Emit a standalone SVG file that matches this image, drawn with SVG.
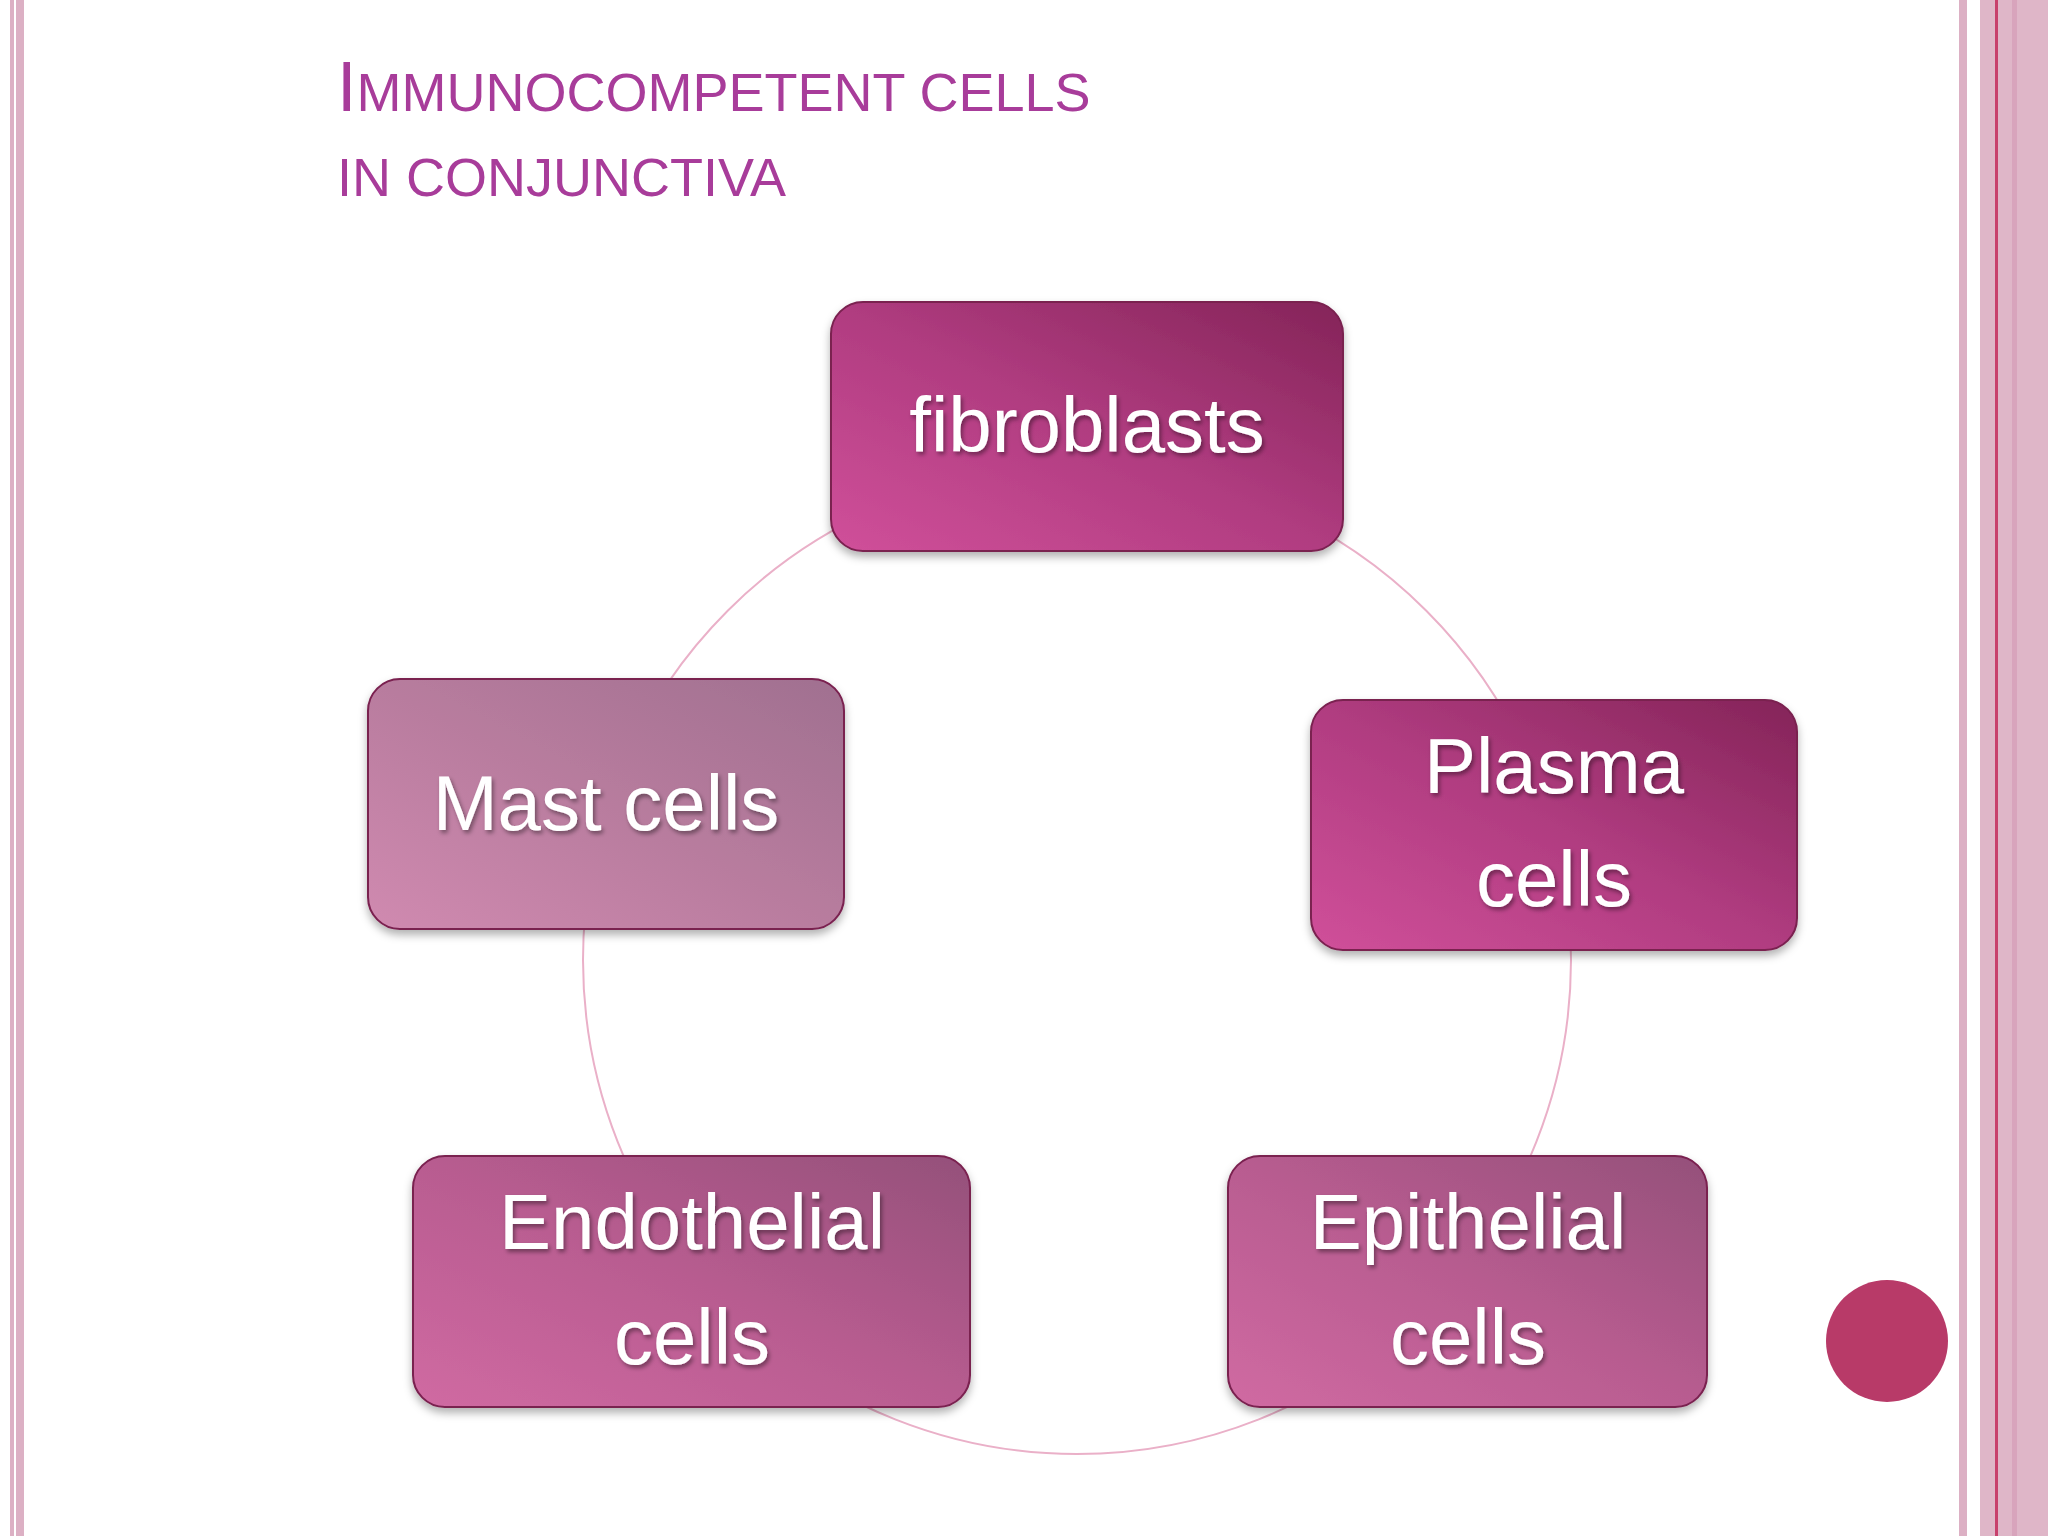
<svg xmlns="http://www.w3.org/2000/svg" width="2048" height="1536" viewBox="0 0 2048 1536">
<defs>
<linearGradient id="gA" x1="0" y1="1" x2="1" y2="0"><stop offset="0" stop-color="#d0509a"/><stop offset="0.5" stop-color="#b03c80"/><stop offset="1" stop-color="#842458"/></linearGradient>
<linearGradient id="gB" x1="0" y1="1" x2="1" y2="0"><stop offset="0" stop-color="#d08ab0"/><stop offset="0.5" stop-color="#b87c9e"/><stop offset="1" stop-color="#a07090"/></linearGradient>
<linearGradient id="gC" x1="0" y1="1" x2="1" y2="0"><stop offset="0" stop-color="#d06aa2"/><stop offset="0.5" stop-color="#b85c90"/><stop offset="1" stop-color="#94507a"/></linearGradient>
<filter id="sh" x="-10%" y="-10%" width="120%" height="130%"><feDropShadow dx="0" dy="5" stdDeviation="4" flood-color="#000" flood-opacity="0.3"/></filter>
<filter id="ts"><feDropShadow dx="2" dy="3" stdDeviation="2" flood-color="#000" flood-opacity="0.4"/></filter>
</defs>
<style>
.box{stroke:#7a2050;stroke-width:2;filter:url(#sh)}
.lbl{font-family:"Liberation Sans",Arial,sans-serif;font-size:78px;fill:#fff;text-anchor:middle;filter:url(#ts)}
.t{font-family:"Liberation Sans",Arial,sans-serif;fill:#a83c9a}
</style>
<rect width="2048" height="1536" fill="#fff"/>
<rect x="10" y="0" width="4" height="1536" fill="#dcb0c4"/>
<rect x="16" y="0" width="8" height="1536" fill="#dcb0c4"/>
<rect x="1959" y="0" width="8" height="1536" fill="#dcb0c4"/>
<rect x="1980" y="0" width="68" height="1536" fill="#dfb6c8"/>
<rect x="1995" y="0" width="3" height="1536" fill="#c8406c"/>
<rect x="2012" y="0" width="5" height="1536" fill="#d8a4bc"/>
<text class="t" x="337" y="111" font-size="54"><tspan font-size="70">I</tspan>MMUNOCOMPETENT  CELLS</text>
<text class="t" x="337" y="196" font-size="54">IN CONJUNCTIVA</text>
<g id="connectors"><circle cx="1077" cy="960" r="494" fill="none" stroke="#eab0c8" stroke-width="2"/></g>
<g id="fibroblasts"><rect class="box" x="831" y="302" width="512" height="249" rx="32" fill="url(#gA)"/><text class="lbl" x="1087" y="452">fibroblasts</text></g>
<g id="mast"><rect class="box" x="368" y="679" width="476" height="250" rx="32" fill="url(#gB)" stroke="#a07090"/><text class="lbl" x="606" y="830">Mast cells</text></g>
<g id="plasma"><rect class="box" x="1311" y="700" width="486" height="250" rx="32" fill="url(#gA)"/><text class="lbl" x="1554" y="793">Plasma</text><text class="lbl" x="1554" y="906">cells</text></g>
<g id="endothelial"><rect class="box" x="413" y="1156" width="557" height="251" rx="32" fill="url(#gC)"/><text class="lbl" x="692" y="1249">Endothelial</text><text class="lbl" x="692" y="1364">cells</text></g>
<g id="epithelial"><rect class="box" x="1228" y="1156" width="479" height="251" rx="32" fill="url(#gC)"/><text class="lbl" x="1468" y="1249">Epithelial</text><text class="lbl" x="1468" y="1364">cells</text></g>
<circle cx="1887" cy="1341" r="61" fill="#b83a68"/>
</svg>
